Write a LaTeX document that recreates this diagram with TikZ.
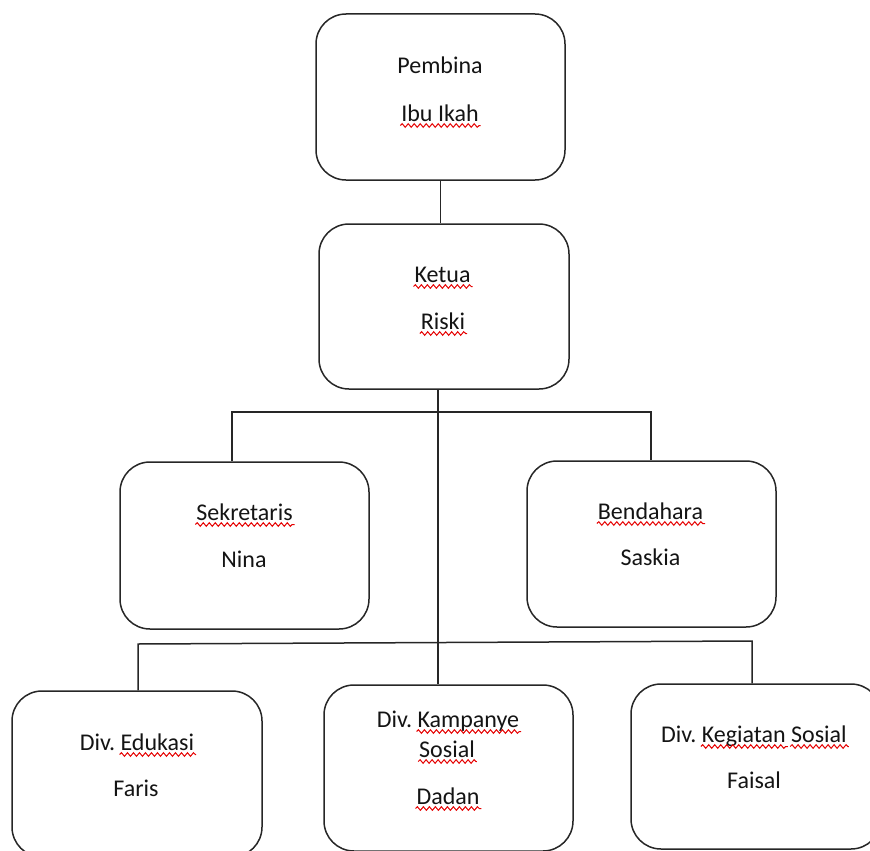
\documentclass[tikz,border=0pt]{standalone}
\usepackage{fontspec}
\setmainfont{Carlito}
\usetikzlibrary{decorations.pathmorphing}
\frenchspacing
\newcommand\sq[1]{\tikz[baseline=(sqw.base),x=1pt,y=1pt]{\node[inner sep=0pt,outer sep=0pt,anchor=base,draw=none](sqw){#1};\draw[overlay,red!90!black,line width=1pt,decorate,decoration={snake,amplitude=1.8pt,segment length=6pt}] ([yshift=-4.5pt,xshift=-1pt]sqw.base west) -- ([yshift=-4.5pt,xshift=2pt]sqw.base east);}}
\tikzset{
  box/.style={draw=black!85,line width=1.5pt,rounded corners=30pt,minimum width=249pt,minimum height=166pt,inner sep=0pt,fill=none},
  conn/.style={draw=black!85,line width=1.5pt},
  txt/.style={font=\fontsize{24}{28}\selectfont,text=black!92,anchor=base,inner sep=0pt}
}
\begin{document}
\begin{tikzpicture}[x=1pt,y=-1pt]
\useasboundingbox (0,0) rectangle (870,851);
\clip (0,0) rectangle (870,851);
% boxes
\node[box] (pembina) at (440.5,97) {};
\node[box,minimum width=250pt,minimum height=165pt] (ketua) at (444,306.5) {};
\node[box,minimum height=167pt] (sekretaris) at (244.5,545.5) {};
\node[box] (bendahara) at (651.5,544) {};
\node[box,minimum width=250pt] (edukasi) at (137,774) {};
\node[box] (kampanye) at (448.5,768) {};
\node[box,minimum width=250pt,minimum height=165pt] (kegiatan) at (756,766.5) {};
% texts
\node[txt] (t1) at (440,74) {Pembina};
\node[txt] (t2) at (440,121) {\sq{Ibu Ikah}};
\node[txt] (t3) at (442.5,282) {\sq{Ketua}};
\node[txt] (t4) at (443,329) {\sq{Riski}};
\node[txt] (t5) at (244.5,520) {\sq{Sekretaris}};
\node[txt] (t6) at (244,567) {Nina};
\node[txt] (t7) at (650.5,519) {\sq{Bendahara}};
\node[txt] (t8) at (650.5,565) {Saskia};
\node[txt] (t9) at (137,750) {Div.\ \sq{Edukasi}};
\node[txt] (t10) at (136,796) {Faris};
\node[txt] (t11) at (448,727) {Div.\ \sq{Kampanye}};
\node[txt] (t12) at (447,757) {\sq{Sosial}};
\node[txt] (t13) at (448,804) {\sq{Dadan}};
\node[txt] (t14) at (754,742) {Div.\ \sq{Kegiatan} \sq{Sosial}};
\node[txt] (t15) at (754,788) {Faisal};
% junction points
\coordinate (kx) at (438,0);
\coordinate (b1L) at (232,412);
\coordinate (b1R) at (651,412);
\coordinate (b2L) at (138,644);
\coordinate (b2R) at (752,641);
% connectors
\draw[conn] (pembina.south) -- (pembina.south |- ketua.north);
\draw[conn] (ketua.south -| kx) -- (kampanye.north -| kx);
\draw[conn] (sekretaris.north -| b1L) -- (b1L) -- (b1R) -- (b1R |- bendahara.north);
\draw[conn] (edukasi.north -| b2L) -- (b2L) -- (b2R) -- (b2R |- kegiatan.north);
\end{tikzpicture}
\end{document}
